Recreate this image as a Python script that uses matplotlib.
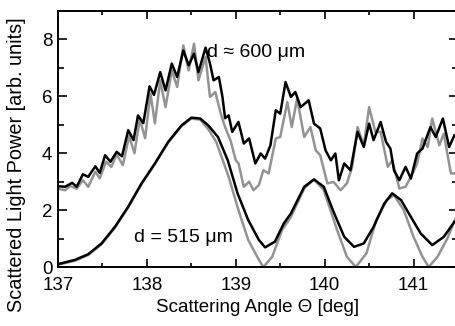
import matplotlib
matplotlib.use('Agg')
import matplotlib.pyplot as plt
from matplotlib.ticker import MultipleLocator

plt.rcParams['font.family'] = ['Liberation Sans', 'DejaVu Sans']

# d ~ 600 um, measured (black) and calculated (gray)
theta_600_meas = [137.00, 137.08, 137.16, 137.21, 137.28, 137.34, 137.42, 137.47, 137.53, 137.59,
                  137.66, 137.72, 137.79, 137.85, 137.90, 137.96, 138.03, 138.08, 138.15, 138.21,
                  138.28, 138.34, 138.41, 138.47, 138.53, 138.58, 138.66, 138.71, 138.75, 138.81,
                  138.85, 138.88, 138.92, 138.96, 139.03, 139.09, 139.15, 139.22, 139.28, 139.33,
                  139.39, 139.45, 139.50, 139.56, 139.62, 139.67, 139.73, 139.82, 139.88, 139.95,
                  140.01, 140.07, 140.12, 140.16, 140.22, 140.29, 140.37, 140.44, 140.50, 140.55,
                  140.63, 140.69, 140.74, 140.78, 140.84, 140.91, 140.97, 141.04, 141.10, 141.19,
                  141.25, 141.33, 141.40, 141.46]
power_600_meas = [2.84, 2.82, 2.96, 2.82, 3.26, 3.17, 3.54, 3.31, 3.93, 3.70,
                  4.05, 3.89, 4.81, 4.46, 5.33, 5.06, 6.35, 6.05, 6.85, 6.21,
                  7.15, 6.68, 7.61, 7.09, 7.50, 6.85, 7.71, 7.15, 6.56, 6.68,
                  5.98, 5.23, 5.33, 4.75, 5.10, 4.34, 4.52, 3.64, 3.99, 3.81,
                  4.28, 5.51, 5.39, 6.50, 5.98, 6.15, 5.62, 5.86, 5.04, 4.87,
                  4.10, 3.75, 3.99, 3.05, 3.64, 3.40, 4.75, 4.22, 5.04, 4.46,
                  5.10, 4.40, 4.16, 3.40, 3.05, 3.52, 3.11, 3.99, 4.16, 4.92,
                  4.57, 5.22, 4.22, 4.63]

theta_600_calc = [137.00, 137.08, 137.14, 137.21, 137.28, 137.34, 137.42, 137.47, 137.54, 137.60,
                  137.66, 137.73, 137.80, 137.86, 137.92, 137.98, 138.04, 138.09, 138.15, 138.21,
                  138.28, 138.34, 138.41, 138.47, 138.53, 138.58, 138.66, 138.71, 138.77, 138.83,
                  138.88, 138.94, 139.00, 139.03, 139.09, 139.15, 139.20, 139.26, 139.31, 139.37,
                  139.45, 139.50, 139.58, 139.63, 139.69, 139.77, 139.84, 139.90, 139.95, 140.03,
                  140.10, 140.18, 140.25, 140.31, 140.37, 140.44, 140.50, 140.57, 140.63, 140.71,
                  140.76, 140.84, 140.91, 140.99, 141.04, 141.10, 141.16, 141.21, 141.29, 141.34,
                  141.42, 141.48]
power_600_calc = [2.75, 2.70, 2.85, 2.75, 3.05, 2.82, 3.35, 3.12, 3.70, 3.52,
                  3.95, 3.58, 4.60, 4.00, 5.20, 4.53, 6.10, 5.05, 6.56, 5.62,
                  6.91, 6.33, 7.79, 6.91, 7.85, 6.56, 7.38, 5.98, 6.15, 5.40,
                  4.92, 4.46, 3.75, 3.65, 2.82, 3.00, 2.70, 2.88, 3.40, 3.29,
                  4.52, 4.57, 5.80, 4.92, 5.92, 4.57, 4.92, 4.10, 3.93, 2.94,
                  2.99, 2.70, 2.94, 3.52, 4.92, 4.28, 5.62, 4.75, 4.75, 3.52,
                  3.75, 2.76, 2.82, 3.29, 3.64, 4.52, 4.22, 5.22, 4.28, 4.69,
                  3.29, 3.29]

# d = 515 um, measured (black) and calculated (gray)
theta_515_meas = [137.00, 137.19, 137.34, 137.49, 137.64, 137.79, 137.94, 138.09, 138.24, 138.39,
                  138.50, 138.60, 138.69, 138.80, 138.91, 139.02, 139.14, 139.26, 139.33, 139.44,
                  139.54, 139.62, 139.77, 139.88, 139.99, 140.10, 140.22, 140.33, 140.44, 140.55,
                  140.67, 140.76, 140.86, 140.97, 141.08, 141.21, 141.34, 141.46]
power_515_meas = [0.10, 0.25, 0.45, 0.83, 1.41, 2.12, 2.94, 3.64, 4.40, 4.98,
                  5.25, 5.22, 4.98, 4.57, 3.75, 2.59, 1.65, 0.95, 0.69, 0.89,
                  1.53, 1.88, 2.82, 3.08, 2.82, 1.94, 1.06, 0.71, 0.83, 1.41,
                  2.23, 2.59, 2.35, 1.76, 1.18, 0.77, 1.06, 1.59]

theta_515_calc = [137.00, 137.19, 137.34, 137.49, 137.64, 137.79, 137.94, 138.09, 138.24, 138.39,
                  138.50, 138.60, 138.69, 138.78, 138.92, 139.03, 139.14, 139.26, 139.31, 139.41,
                  139.52, 139.62, 139.77, 139.88, 139.99, 140.14, 140.25, 140.35, 140.47, 140.58,
                  140.70, 140.78, 140.89, 141.00, 141.10, 141.17, 141.27, 141.38, 141.48]
power_515_calc = [0.08, 0.22, 0.42, 0.80, 1.38, 2.10, 2.92, 3.62, 4.38, 4.95,
                  5.22, 5.18, 4.85, 4.40, 3.17, 2.00, 0.95, 0.25, 0.00, 0.36,
                  1.30, 1.76, 2.76, 3.08, 2.70, 1.30, 0.36, 0.00, 0.48, 1.65,
                  2.35, 2.53, 2.00, 1.06, 0.36, 0.00, 0.36, 1.00, 1.76]

fig = plt.figure(figsize=(4.55, 3.26), dpi=100)
ax = fig.add_axes([58 / 455, 59 / 326, 400 / 455, 256 / 326])

gray = '#939393'
ax.plot(theta_515_calc, power_515_calc, color=gray, lw=1.8)
ax.plot(theta_600_calc, power_600_calc, color=gray, lw=1.8)
ax.plot(theta_515_meas, power_515_meas, color='black', lw=1.8)
ax.plot(theta_600_meas, power_600_meas, color='black', lw=1.8)

ax.text(138.68, 7.54, 'd \u2248 600 \u03bcm', fontsize=14, va='center', ha='left')
ax.text(137.85, 1.05, 'd = 515 \u03bcm', fontsize=14, va='center', ha='left')

ax.set_xlim(137, 141.5)
ax.set_ylim(0, 9)
ax.xaxis.set_major_locator(MultipleLocator(1))
ax.xaxis.set_minor_locator(MultipleLocator(0.5))
ax.yaxis.set_major_locator(MultipleLocator(2))
ax.yaxis.set_minor_locator(MultipleLocator(1))
ax.tick_params(which='both', direction='in', top=True, right=True, width=1.2, labelsize=13.5)
ax.tick_params(axis='x', which='major', length=5.5, pad=7)
ax.tick_params(axis='x', which='minor', length=3.2)
ax.tick_params(axis='y', which='major', length=6.5, pad=4)
ax.tick_params(axis='y', which='minor', length=4.5)
for s in ax.spines.values():
    s.set_linewidth(1.4)

ax.set_xlabel('Scattering Angle \u0398 [deg]', fontsize=13.5, labelpad=4)
ax.set_ylabel('Scattered Light Power [arb. units]', fontsize=14.3)
ax.yaxis.set_label_coords(-0.08, 0.40)

fig.savefig('out.png', dpi=100)
plt.close(fig)
